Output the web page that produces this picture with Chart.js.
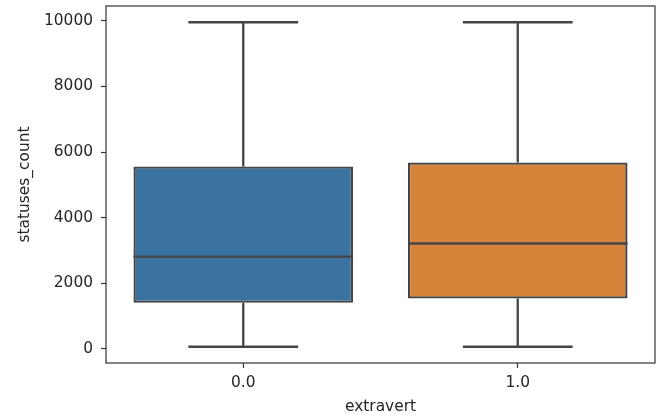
<!DOCTYPE html>
<html>
<head>
<meta charset="utf-8">
<script src="https://cdn.jsdelivr.net/npm/chart.js@4"></script>
<style>
  html, body { margin: 0; padding: 0; background: #ffffff; }
  #wrap { width: 664px; height: 419px; position: relative; }
</style>
</head>
<body>
<div id="wrap"><canvas id="chart" width="664" height="419"></canvas></div>
<script>
// Box-plot summary of statuses_count, split by extravert
const categories = ['0.0', '1.0'];
const whiskerLow = [60, 60];
const q1 = [1400, 1530];
const median = [2810, 3210];
const q3 = [5560, 5680];
const whiskerHigh = [9960, 9960];
const yTicks = [0, 2000, 4000, 6000, 8000, 10000];

const boxColors = ['#3a72a0', '#d8833a'];
const edgeColor = '#454545';
const textColor = '#262626';
const fontFamily = '"DejaVu Sans", sans-serif';
const fontSize = 15.4;

// 5% padding around the data range on the value axis
const span = Math.max(...whiskerHigh) - Math.min(...whiskerLow);
const yMin = Math.min(...whiskerLow) - 0.05 * span;
const yMax = Math.max(...whiskerHigh) + 0.05 * span;

// Whiskers, caps and median lines, placed through the chart's scales
const boxParts = {
  id: 'boxParts',
  afterDatasetsDraw(chart) {
    const { ctx, scales: { x, y } } = chart;
    const bars = chart.getDatasetMeta(0).data;
    ctx.save();
    ctx.strokeStyle = edgeColor;
    ctx.lineWidth = 2.3;
    ctx.lineCap = 'butt';
    categories.forEach((c, i) => {
      const cx = x.getPixelForValue(i);
      const w = bars[i].width;
      const yLo = y.getPixelForValue(whiskerLow[i]);
      const yQ1 = y.getPixelForValue(q1[i]);
      const yMed = y.getPixelForValue(median[i]);
      const yQ3 = y.getPixelForValue(q3[i]);
      const yHi = y.getPixelForValue(whiskerHigh[i]);
      ctx.beginPath();
      // whisker stems
      ctx.moveTo(cx, yQ3); ctx.lineTo(cx, yHi);
      ctx.moveTo(cx, yQ1); ctx.lineTo(cx, yLo);
      // caps
      ctx.moveTo(cx - w / 4, yHi); ctx.lineTo(cx + w / 4, yHi);
      ctx.moveTo(cx - w / 4, yLo); ctx.lineTo(cx + w / 4, yLo);
      // median
      ctx.moveTo(cx - w / 2, yMed); ctx.lineTo(cx + w / 2, yMed);
      ctx.stroke();
    });
    ctx.restore();
  },
  afterDraw(chart) {
    // frame around the plotting area
    const { ctx, chartArea: a } = chart;
    ctx.save();
    ctx.strokeStyle = '#333333';
    ctx.lineWidth = 1.2;
    ctx.strokeRect(a.left, a.top, a.right - a.left, a.bottom - a.top);
    ctx.restore();
  }
};

new Chart(document.getElementById('chart'), {
  type: 'bar',
  data: {
    labels: categories,
    datasets: [{
      label: 'statuses_count',
      data: q1.map((v, i) => [v, q3[i]]),
      backgroundColor: boxColors,
      borderColor: edgeColor,
      borderWidth: 2.3,
      borderSkipped: false,
      categoryPercentage: 0.8,
      barPercentage: 1.0
    }]
  },
  options: {
    responsive: false,
    animation: false,
    devicePixelRatio: 1,
    layout: { padding: { top: 6, right: 9, left: 0, bottom: 0 } },
    plugins: { legend: { display: false }, tooltip: { enabled: false } },
    scales: {
      x: {
        offset: true,
        border: { display: false },
        grid: { display: true, offset: false, drawOnChartArea: false, drawTicks: true, tickLength: 5, tickColor: '#333333', tickWidth: 1.2 },
        ticks: { color: textColor, font: { family: fontFamily, size: fontSize }, padding: 6, maxRotation: 0 },
        title: { display: true, text: 'extravert', color: textColor, font: { family: fontFamily, size: fontSize }, padding: { top: 0, bottom: 3 } },
        afterFit(scale) { scale.height = 56; scale.paddingLeft = 0; scale.paddingRight = 0; }
      },
      y: {
        min: yMin,
        max: yMax,
        border: { display: false },
        grid: { display: true, drawOnChartArea: false, drawTicks: true, tickLength: 5, tickColor: '#333333', tickWidth: 1.2 },
        ticks: { color: textColor, font: { family: fontFamily, size: fontSize }, padding: 8, callback: v => String(v) },
        afterBuildTicks(scale) { scale.ticks = yTicks.map(v => ({ value: v })); },
        title: { display: true, text: 'statuses_count', color: textColor, font: { family: fontFamily, size: fontSize }, padding: { top: 16, bottom: 0 } },
        afterFit(scale) { scale.width = 106; scale.paddingTop = 0; scale.paddingBottom = 0; }
      }
    }
  },
  plugins: [boxParts]
});
</script>
</body>
</html>
